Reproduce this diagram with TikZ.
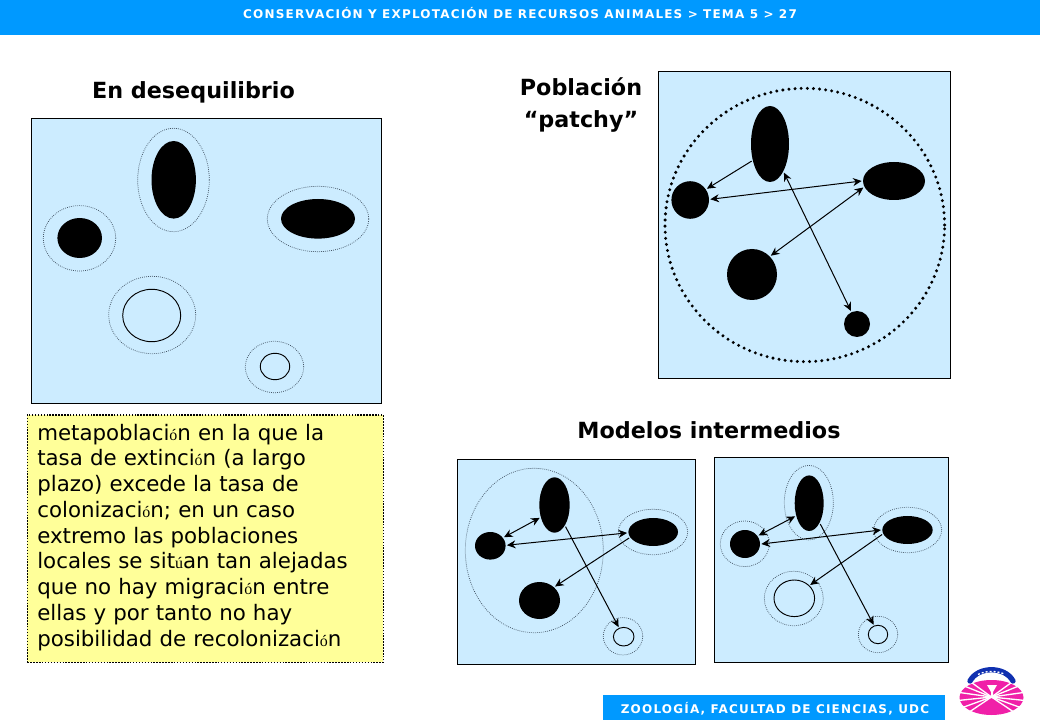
\documentclass[tikz,border=0pt]{standalone}
\usepackage{fontspec}
\setmainfont{DejaVu Sans}
\newfontfamily\accfont{Liberation Serif}
\newfontfamily\barfont[LetterSpace=10,WordSpace=1,BoldFont={DejaVu Sans Bold}]{DejaVu Sans}
\usetikzlibrary{shapes.geometric,arrows.meta,positioning}
\definecolor{barblue}{HTML}{0099FF}
\definecolor{panelblue}{HTML}{CCECFF}
\definecolor{noteyellow}{HTML}{FFFF99}
\definecolor{halogray}{HTML}{445566}
\definecolor{logopink}{HTML}{F020A8}
\definecolor{logoblue}{HTML}{1030B0}
\newcommand{\ac}[1]{{\accfont\fontsize{12}{19.3}\selectfont #1}}
\tikzset{
  panelbox/.style={draw=black,fill=panelblue,line width=0.65pt},
  blob/.style 2 args={ellipse,fill=black,inner sep=0pt,outer sep=1pt,minimum width=#1*1.5pt,minimum height=#2*1.5pt},
  openblob/.style 2 args={ellipse,draw=black,line width=0.7pt,inner sep=0pt,outer sep=1pt,minimum width=#1*1.5pt,minimum height=#2*1.5pt},
  halo/.style 2 args={ellipse,draw=halogray,line width=0.55pt,dash pattern=on 0.6pt off 0.9pt,inner sep=0pt,minimum width=#1*1.5pt,minimum height=#2*1.5pt},
  flow/.style={line width=0.75pt,-{Stealth[length=6.5pt,width=6pt]}},
  flowboth/.style={line width=0.75pt,{Stealth[length=6.5pt,width=6pt]}-{Stealth[length=6.5pt,width=6pt]}},
  heading/.style={font=\fontsize{16.7}{24}\selectfont\bfseries,align=center,inner sep=0pt},
  barlabel/.style={text=white,inner sep=0pt,font=\barfont\fontsize{9}{10}\selectfont\bfseries}
}
\begin{document}
\begin{tikzpicture}[x=0.75pt,y=-0.75pt]
  \useasboundingbox (0,0) rectangle (1040,720);
  \fill[barblue] (0,0) rectangle (1040,35);
  \node[barlabel] (toplabel) at (520,13) {CONSERVACIÓN Y EXPLOTACIÓN DE RECURSOS ANIMALES > TEMA 5 > 27};
  \fill[barblue] (603,695) rectangle (945,720);
  \node[barlabel] (footlabel) at (775,709) {ZOOLOGÍA, FACULTAD DE CIENCIAS, UDC};

  \node[heading] (titlea) at (193.5,92) {En desequilibrio};
  \node[heading] (titleb) at (581,105) {Población\\“patchy”};
  \node[heading] (titlec) at (709,430) {Modelos intermedios};

  \draw[panelbox] (31,118) rectangle (381,403);
  \node[halo={35.8}{51.7}] (ha1) at (173.5,180) {};
  \node[halo={36.2}{32.7}] (ha2) at (79.5,238.3) {};
  \node[halo={50.7}{32.7}] (ha3) at (318,219) {};
  \node[halo={43.5}{38.7}] (ha4) at (152.2,315) {};
  \node[halo={29.2}{25.7}] (ha5) at (274.5,367) {};
  \node[blob={22.2}{38.8}] (a1) at (173.7,179.8) {};
  \node[blob={22.3}{20}] (a2) at (79.7,238) {};
  \node[blob={37}{19.8}] (a3) at (318,218.8) {};
  \node[openblob={29}{26.2}] (a4) at (151.7,315.5) {};
  \node[openblob={14.7}{13.2}] (a5) at (275,366.5) {};

  \node[draw=black,fill=noteyellow,line width=1.1pt,dash pattern=on 1.1pt off 1.1pt,minimum width=267pt,minimum height=185.5pt,inner sep=0pt,
    text width=252pt,align=left,font=\fontsize{16}{19.3}\selectfont] (note) at (205.3,538.6)
    {metapoblaci\ac{ó}n en la que la\\tasa de extinci\ac{ó}n (a largo\\plazo) excede la tasa de\\colonizaci\ac{ó}n; en un caso\\extremo las poblaciones\\locales se sit\ac{ú}an tan alejadas\\que no hay migraci\ac{ó}n entre\\ellas y por tanto no hay\\posibilidad de recolonizaci\ac{ó}n\\[-14pt]\mbox{}};

  \draw[panelbox] (658.3,71.3) rectangle (950.7,378.3);
  \node[ellipse,draw=black,line width=2.5pt,line cap=round,dash pattern=on 0pt off 4.6pt,inner sep=0pt,minimum width=209.7pt,minimum height=205pt] (hb) at (804.8,225) {};
  \node[blob={19}{38}] (b1) at (770,144) {};
  \node[blob={18.8}{18.8}] (b2) at (690.2,200) {};
  \node[blob={31}{19}] (b3) at (894,181) {};
  \node[blob={25}{25.5}] (b4) at (752,274.5) {};
  \node[blob={13}{13}] (b5) at (857,324) {};
  \draw[flow] (b1.223) -- (b2.34);
  \draw[flowboth] (b2.2) -- (b3.180);
  \draw[flowboth] (b3.192) -- (b4.45);
  \draw[flowboth] (b1.-64) -- (b5.115);

  \draw[panelbox] (457,459) rectangle (695.5,664.5);
  \node[halo={69}{82.2}] (hc1) at (534.3,550.5) {};
  \node[halo={34.7}{22.7}] (hc2) at (653,532) {};
  \node[halo={19.7}{18.7}] (hc3) at (623,636.3) {};
  \node[blob={15.2}{27.7}] (c1) at (554.5,505) {};
  \node[blob={15.3}{13.8}] (c2) at (490.3,545.8) {};
  \node[blob={24.8}{14}] (c3) at (653.2,532) {};
  \node[blob={20.5}{18.5}] (c4) at (539.5,600.5) {};
  \node[openblob={10.3}{9.3}] (c5) at (623.7,636.7) {};
  \draw[flowboth] (c1.221) -- (c2.32);
  \draw[flowboth] (c2.2) -- (c3.182);
  \draw[flow] (c3.194) -- (c4.42);
  \draw[flow] (c1.-63) -- (c5.118);

  \draw[panelbox] (714.5,457.5) rectangle (948.7,662);
  \node[halo={24.5}{37.3}] (hd1) at (808.8,502.7) {};
  \node[halo={24.5}{22.8}] (hd2) at (744.8,543.8) {};
  \node[halo={34}{22.7}] (hd3) at (907.7,530) {};
  \node[halo={29.5}{27.2}] (hd4) at (793.8,598.5) {};
  \node[halo={19.7}{18.2}] (hd5) at (878,634.5) {};
  \node[blob={14.5}{27.8}] (d1) at (809.2,503.2) {};
  \node[blob={15}{14}] (d2) at (745,544) {};
  \node[blob={25.2}{14}] (d3) at (907.5,530) {};
  \node[openblob={20.3}{18.3}] (d4) at (794.3,598.3) {};
  \node[openblob={9.7}{9.2}] (d5) at (878,634.5) {};
  \draw[flowboth] (d1.223) -- (d2.32);
  \draw[flowboth] (d2.0) -- (d3.180);
  \draw[flow] (d3.190) -- (d4.40);
  \draw[flow] (d1.-62) -- (d5.114);

  \fill[logopink] (991.5,697.5) ellipse (32 and 17.5);
  \foreach \ang in {6,20,34,-8,-22,-36,174,160,146,188,202,216}
    \draw[white,line width=1pt] (991.5,697) -- ++(\ang:36);
  \fill[white] (987,685) -- (997,685) -- (993,692) -- (993,698) -- (991,698) -- (991,692) -- cycle;
  \draw[logoblue,line width=4pt,line cap=round] (970,681) .. controls (978,666) and (1005,666) .. (1013,681);
  \draw[white,line width=1pt,dash pattern=on 1.5pt off 1.5pt] (978,674.5) .. controls (985,670.5) and (998,670.5) .. (1005,674.5);
\end{tikzpicture}
\end{document}
